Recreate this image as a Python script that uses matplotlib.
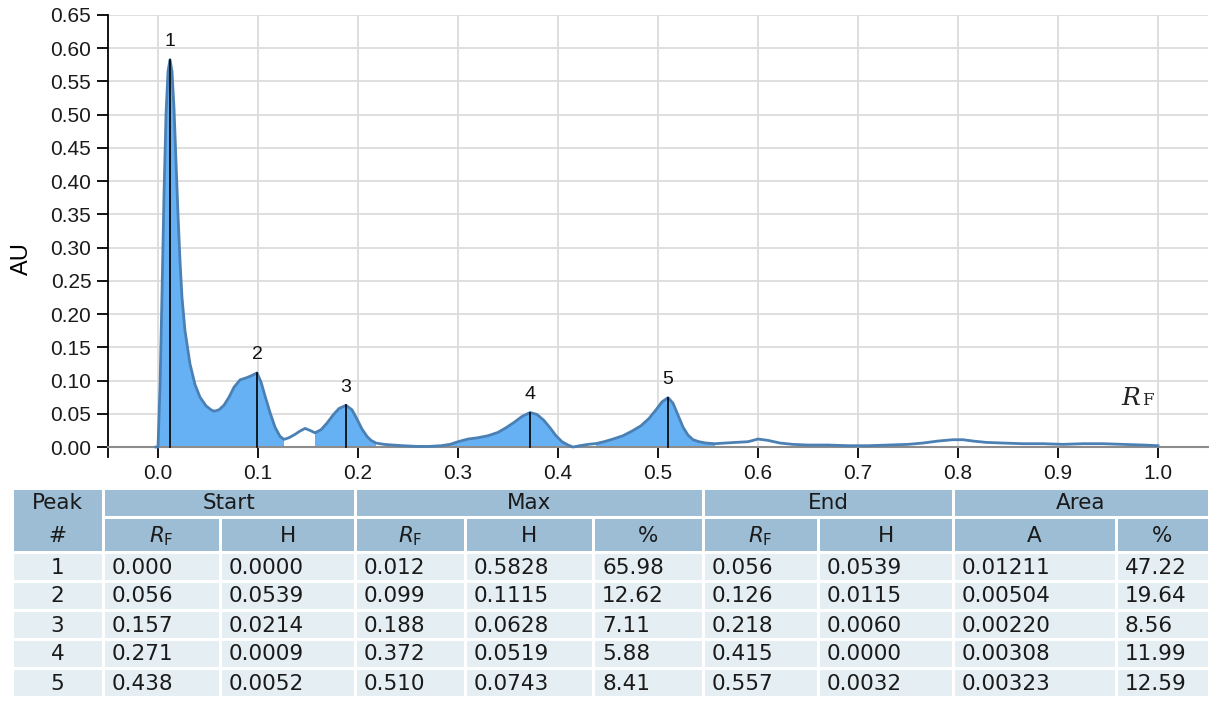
import numpy as np
import matplotlib
matplotlib.use('Agg')
import matplotlib.pyplot as plt
from matplotlib.patches import Rectangle

plt.rcParams['font.family'] = ['Liberation Sans', 'DejaVu Sans']

# Densitogram (RF vs AU)
rf = [-0.002, 0.000, 0.002, 0.004, 0.006, 0.008, 0.010, 0.012, 0.014, 0.016,
      0.018, 0.020, 0.022, 0.024, 0.027, 0.032, 0.037, 0.042, 0.048, 0.053,
      0.056, 0.061, 0.066, 0.071, 0.076, 0.082, 0.088, 0.093, 0.099, 0.103,
      0.107, 0.112, 0.117, 0.122, 0.126, 0.131, 0.137, 0.142, 0.147, 0.152,
      0.157, 0.163, 0.169, 0.175, 0.181, 0.188, 0.194, 0.199, 0.204, 0.209,
      0.213, 0.218, 0.226, 0.235, 0.245, 0.258, 0.271, 0.283, 0.292, 0.300,
      0.310, 0.320, 0.330, 0.340, 0.348, 0.356, 0.364, 0.372, 0.379, 0.386,
      0.392, 0.398, 0.404, 0.410, 0.415, 0.422, 0.430, 0.438, 0.446, 0.455,
      0.465, 0.474, 0.483, 0.491, 0.498, 0.504, 0.510, 0.515, 0.520, 0.525,
      0.530, 0.535, 0.541, 0.548, 0.557, 0.567, 0.578, 0.590, 0.600, 0.610,
      0.622, 0.635, 0.650, 0.670, 0.690, 0.710, 0.730, 0.750, 0.765, 0.780,
      0.795, 0.805, 0.815, 0.828, 0.845, 0.865, 0.885, 0.905, 0.925, 0.945,
      0.965, 0.985, 1.000]
au = [0.000, 0.000, 0.090, 0.230, 0.380, 0.500, 0.565, 0.5828, 0.565, 0.510,
      0.430, 0.350, 0.280, 0.225, 0.175, 0.125, 0.094, 0.075, 0.062, 0.056,
      0.0539, 0.056, 0.063, 0.075, 0.090, 0.101, 0.104, 0.107, 0.1115, 0.098,
      0.077, 0.052, 0.030, 0.016, 0.0115, 0.014, 0.019, 0.024, 0.028, 0.025,
      0.0214, 0.026, 0.036, 0.048, 0.058, 0.0628, 0.056, 0.042, 0.027, 0.016,
      0.010, 0.0060, 0.004, 0.003, 0.002, 0.001, 0.0009, 0.002, 0.004, 0.008,
      0.012, 0.014, 0.017, 0.022, 0.029, 0.037, 0.046, 0.0519, 0.049, 0.040,
      0.029, 0.017, 0.008, 0.003, 0.000, 0.002, 0.004, 0.0052, 0.008, 0.012,
      0.017, 0.024, 0.032, 0.043, 0.056, 0.068, 0.0743, 0.066, 0.048, 0.030,
      0.018, 0.011, 0.008, 0.006, 0.005, 0.006, 0.007, 0.008, 0.012, 0.010,
      0.006, 0.004, 0.003, 0.003, 0.002, 0.002, 0.003, 0.004, 0.006, 0.009,
      0.011, 0.011, 0.009, 0.007, 0.006, 0.005, 0.005, 0.004, 0.005, 0.005,
      0.004, 0.003, 0.002]

# Peak table
peaks = ['1', '2', '3', '4', '5']
start_rf = ['0.000', '0.056', '0.157', '0.271', '0.438']
start_h = ['0.0000', '0.0539', '0.0214', '0.0009', '0.0052']
max_rf = ['0.012', '0.099', '0.188', '0.372', '0.510']
max_h = ['0.5828', '0.1115', '0.0628', '0.0519', '0.0743']
max_pct = ['65.98', '12.62', '7.11', '5.88', '8.41']
end_rf = ['0.056', '0.126', '0.218', '0.415', '0.557']
end_h = ['0.0539', '0.0115', '0.0060', '0.0000', '0.0032']
area_a = ['0.01211', '0.00504', '0.00220', '0.00308', '0.00323']
area_pct = ['47.22', '19.64', '8.56', '11.99', '12.59']

x = np.array(rf)
y = np.array(au)

W, H = 1209, 702
fig = plt.figure(figsize=(W / 100, H / 100), dpi=100)

ax = fig.add_axes([108 / W, 1 - 457 / H, 1100 / W, 442 / H])
ax.set_xlim(-0.05, 1.05)
ax.set_ylim(-0.015, 0.65)

# grid
for gy in np.arange(0.05, 0.651, 0.05):
    ax.axhline(gy, color='#dcdcdc', lw=1.3, zorder=0)
for gx in np.arange(0.0, 1.01, 0.1):
    ax.plot([gx, gx], [0, 0.65], color='#dcdcdc', lw=1.3, zorder=0)

# filled peaks (one mask so touching peaks have no seam)
mask = np.zeros(len(x), dtype=bool)
for s, e in zip(start_rf, end_rf):
    mask |= (x >= float(s) - 1e-9) & (x <= float(e) + 1e-9)
ax.fill_between(x, 0, y, where=mask, color='#66b1f4', lw=0, zorder=1)
ax.plot(x, y, color='#4a80b4', lw=2.0, zorder=3, solid_joinstyle='round')

# peak markers and numbers
for p, r, h in zip(peaks, max_rf, max_h):
    r, h = float(r), float(h)
    ax.plot([r, r], [0, h], color='black', lw=1.2, zorder=4)
    ax.annotate(p, (r, h), xytext=(0, 7), textcoords='offset points',
                ha='center', va='bottom', fontsize=14, color='#111')

ax.text(0.983, 0.063, r'$R$', math_fontfamily='dejavuserif', fontsize=18,
        ha='right', va='baseline', color='#222')
ax.text(0.984, 0.063, 'F', family='DejaVu Serif', fontsize=12,
        ha='left', va='baseline', color='#222')

# axes styling
for sp in ['top', 'right']:
    ax.spines[sp].set_visible(False)
ax.spines['bottom'].set_position(('data', 0))
ax.spines['bottom'].set_color('#8c8c8c')
ax.spines['bottom'].set_linewidth(1.5)
ax.spines['left'].set_color('black')
ax.spines['left'].set_linewidth(1.3)
ax.set_xticks(np.arange(0, 1.01, 0.1))
ax.set_xticklabels(['%.1f' % v for v in np.arange(0, 1.01, 0.1)])
ax.set_yticks(np.arange(0, 0.651, 0.05))
ax.set_yticklabels(['%.2f' % v for v in np.arange(0, 0.651, 0.05)])
ax.tick_params(axis='both', direction='out', length=8, width=1.3,
               color='black', labelsize=15, labelcolor='#1a1a1a', pad=4)
ax.set_ylabel('AU', fontsize=17)
ax.yaxis.set_label_coords(-0.068, 0.45)

# table drawn in pixel coordinates
tx = fig.add_axes([0, 0, 1, 1])
tx.set_xlim(0, W)
tx.set_ylim(H, 0)
tx.axis('off')

hdr = '#9dbdd5'
body = '#e5eef2'
cols = [12, 103, 220, 355, 465, 593, 703, 818, 953, 1116, 1209]
r0, r1, r2 = 488, 517, 552
rh = 29
g = 1.5


def cell(x0, x1, y0, y1, c):
    tx.add_patch(Rectangle((x0 + g, y0 + g), x1 - x0 - 2 * g, y1 - y0 - 2 * g,
                           facecolor=c, edgecolor='none'))


tfont = dict(family='DejaVu Sans', fontsize=15.5, color='#1a1a1a', va='center')

# header
cell(cols[0], cols[1], r0, r2, hdr)
tx.text((cols[0] + cols[1]) / 2, 503, 'Peak', ha='center', **tfont)
tx.text((cols[0] + cols[1]) / 2, 536, '#', ha='center', **tfont)
groups = [('Start', 1, 3), ('Max', 3, 6), ('End', 6, 8), ('Area', 8, 10)]
for name, a, b in groups:
    cell(cols[a], cols[b], r0, r1, hdr)
    tx.text((cols[a] + cols[b]) / 2, 503, name, ha='center', **tfont)
subs = [r'$R_\mathrm{F}$', 'H', r'$R_\mathrm{F}$', 'H', '%',
        r'$R_\mathrm{F}$', 'H', 'A', '%']
for i, s in enumerate(subs):
    cell(cols[i + 1], cols[i + 2], r1, r2, hdr)
    tx.text((cols[i + 1] + cols[i + 2]) / 2, 536, s, ha='center',
            math_fontfamily='dejavusans', **tfont)

# body
columns = [start_rf, start_h, max_rf, max_h, max_pct, end_rf, end_h,
           area_a, area_pct]
for j in range(len(peaks)):
    y0 = r2 + j * rh
    yc = y0 + rh / 2 + 1
    cell(cols[0], cols[1], y0, y0 + rh, body)
    tx.text((cols[0] + cols[1]) / 2, yc, peaks[j], ha='center', **tfont)
    for i, col in enumerate(columns):
        cell(cols[i + 1], cols[i + 2], y0, y0 + rh, body)
        tx.text(cols[i + 1] + 9, yc, col[j], ha='left', **tfont)

fig.savefig('out.png', dpi=100)
